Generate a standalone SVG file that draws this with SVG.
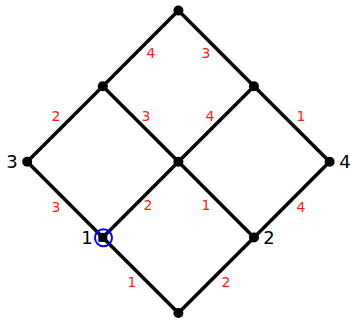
<svg xmlns="http://www.w3.org/2000/svg" width="350" height="320" viewBox="0 0 350 320">
<style>
.e{stroke:#000;stroke-width:3.5;fill:none}
.n{fill:#000}
.w{font-family:"DejaVu Sans",sans-serif;font-size:14px;fill:#ff1a1a;text-anchor:middle}
.l{font-family:"DejaVu Sans",sans-serif;font-size:18px;fill:#000;text-anchor:middle}
</style>
<rect width="350" height="320" fill="#fff"/>
<g id="connectors">
<line class="e" x1="178.4" y1="10.6" x2="102.8" y2="86.2"/>
<line class="e" x1="178.4" y1="10.6" x2="254" y2="86.2"/>
<line class="e" x1="102.8" y1="86.2" x2="27.2" y2="161.8"/>
<line class="e" x1="102.8" y1="86.2" x2="178.4" y2="161.8"/>
<line class="e" x1="254" y1="86.2" x2="178.4" y2="161.8"/>
<line class="e" x1="254" y1="86.2" x2="329.6" y2="161.8"/>
<line class="e" x1="27.2" y1="161.8" x2="102.8" y2="237.4"/>
<line class="e" x1="178.4" y1="161.8" x2="102.8" y2="237.4"/>
<line class="e" x1="178.4" y1="161.8" x2="254" y2="237.4"/>
<line class="e" x1="329.6" y1="161.8" x2="254" y2="237.4"/>
<line class="e" x1="102.8" y1="237.4" x2="178.4" y2="313"/>
<line class="e" x1="254" y1="237.4" x2="178.4" y2="313"/>
<text class="w" x="151" y="58">4</text>
<text class="w" x="206" y="58">3</text>
<text class="w" x="56" y="121">2</text>
<text class="w" x="146" y="121">3</text>
<text class="w" x="210" y="121">4</text>
<text class="w" x="301" y="121">1</text>
<text class="w" x="56" y="212">3</text>
<text class="w" x="148" y="210">2</text>
<text class="w" x="206" y="210">1</text>
<text class="w" x="301" y="212">4</text>
<text class="w" x="132" y="287">1</text>
<text class="w" x="226" y="287">2</text>
</g>
<g id="n_top"><circle class="n" cx="178.4" cy="10.6" r="5"/></g>
<g id="n_a"><circle class="n" cx="102.8" cy="86.2" r="5"/></g>
<g id="n_b"><circle class="n" cx="254" cy="86.2" r="5"/></g>
<g id="n_3"><circle class="n" cx="27.2" cy="161.8" r="5"/><text class="l" x="12" y="168">3</text></g>
<g id="n_c"><circle class="n" cx="178.4" cy="161.8" r="5"/></g>
<g id="n_4"><circle class="n" cx="329.6" cy="161.8" r="5"/><text class="l" x="345" y="168">4</text></g>
<g id="n_1"><rect class="n" x="98.3" y="232.9" width="9" height="9"/><circle cx="103.5" cy="237.8" r="8.5" fill="none" stroke="#0000ff" stroke-width="2"/><text class="l" x="87" y="244">1</text></g>
<g id="n_2"><circle class="n" cx="254" cy="237.4" r="5"/><text class="l" x="269" y="244">2</text></g>
<g id="n_bottom"><circle class="n" cx="178.4" cy="313" r="5"/></g>
</svg>
